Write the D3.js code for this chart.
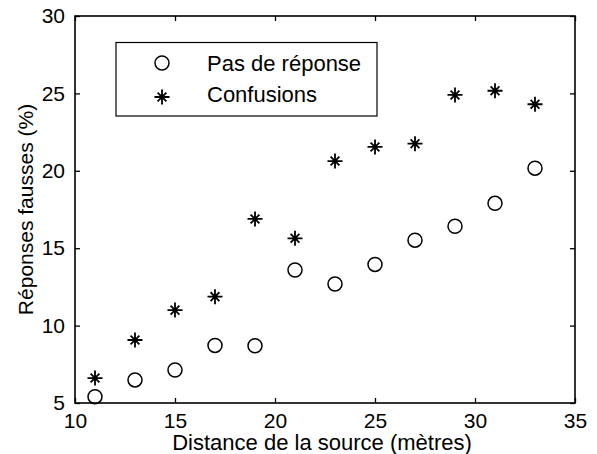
<!DOCTYPE html>
<html><head><meta charset="utf-8">
<script src="https://cdn.jsdelivr.net/npm/d3@7"></script>
<style>body{margin:0;background:#fff}svg{display:block}text{font-family:Arial,"Liberation Sans",sans-serif;fill:#000}</style>
</head><body><svg id="c" width="597" height="454"></svg>
<script>
const distances = [11,13,15,17,19,21,23,25,27,29,31,33];
const pasDeReponse = [5.41,6.49,7.13,8.72,8.70,13.59,12.69,13.95,15.52,16.42,17.90,20.17];
const confusions = [6.61,9.07,11.0,11.87,16.89,15.64,20.63,21.54,21.75,24.9,25.17,24.3];
const xTicks = [10,15,20,25,30,35];
const yTicks = [5,10,15,20,25,30];
const seriesNames = ["Pas de réponse","Confusions"];
const xLabel = "Distance de la source (mètres)";
const yLabel = "Réponses fausses (%)";

const L=75,R=575,T=16,B=403;
const svg=d3.select("#c");
const x=d3.scaleLinear().domain([10,35]).range([L,R]);
const y=d3.scaleLinear().domain([5,30]).range([B,T]);
const fs=21;

const gx=svg.append("g").attr("transform",`translate(0,${B})`)
  .call(d3.axisBottom(x).tickValues(xTicks).tickSizeInner(-5).tickSizeOuter(0).tickPadding(10));
const gxt=svg.append("g").attr("transform",`translate(0,${T})`)
  .call(d3.axisTop(x).tickValues(xTicks).tickSizeInner(-5).tickSizeOuter(0).tickFormat(""));
const gy=svg.append("g").attr("transform",`translate(${L},0)`)
  .call(d3.axisLeft(y).tickValues(yTicks).tickSizeInner(-5).tickSizeOuter(0).tickPadding(10));
const gyr=svg.append("g").attr("transform",`translate(${R},0)`)
  .call(d3.axisRight(y).tickValues(yTicks).tickSizeInner(-5).tickSizeOuter(0).tickFormat(""));
[gx,gxt,gy,gyr].forEach(g=>{g.select(".domain").remove();g.selectAll("line").attr("stroke","#000").attr("stroke-width",1.3);
  g.selectAll("text").attr("font-family","Arial, 'Liberation Sans', sans-serif").attr("font-size",fs).attr("fill","#000");});
gx.selectAll("text").attr("dy","0.71em").attr("y",10);
svg.append("rect").attr("x",L).attr("y",T).attr("width",R-L).attr("height",B-T)
  .attr("fill","none").attr("stroke","#000").attr("stroke-width",1.6);

svg.append("text").attr("x",(L+R)/2-3).attr("y",450).attr("text-anchor","middle").attr("font-size",fs+1).text(xLabel);
svg.append("text").attr("transform",`translate(33,${(T+B)/2}) rotate(-90)`).attr("text-anchor","middle").attr("font-size",fs).text(yLabel);

function circle(g,cx,cy){g.append("circle").attr("cx",cx).attr("cy",cy).attr("r",7).attr("fill","none").attr("stroke","#000").attr("stroke-width",1.5);}
function star(g,cx,cy){
  const a=7.5,d=4.4;
  const p=`M${cx-a},${cy}H${cx+a}M${cx},${cy-a}V${cy+a}M${cx-d},${cy-d}L${cx+d},${cy+d}M${cx-d},${cy+d}L${cx+d},${cy-d}`;
  g.append("path").attr("d",p).attr("stroke","#000").attr("stroke-width",1.8).attr("fill","none");
  g.append("circle").attr("cx",cx).attr("cy",cy).attr("r",2.4).attr("fill","#000");
}
const gm=svg.append("g");
distances.forEach((d,i)=>{circle(gm,x(d),y(pasDeReponse[i]));});
distances.forEach((d,i)=>{star(gm,x(d),y(confusions[i]));});

const lg=svg.append("g");
lg.append("rect").attr("x",116).attr("y",42.5).attr("width",261).attr("height",73.5).attr("fill","#fff").attr("stroke","#000").attr("stroke-width",1.2);
circle(lg,162,63);
star(lg,162,97);
lg.append("text").attr("x",207).attr("y",71).attr("font-size",22).text(seriesNames[0]);
lg.append("text").attr("x",207).attr("y",102).attr("font-size",22).text(seriesNames[1]);
</script></body></html>
